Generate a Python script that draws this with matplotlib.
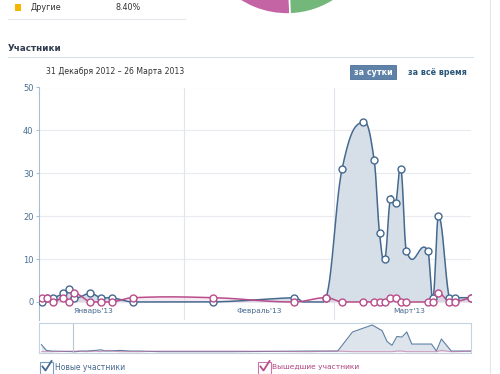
import numpy as np
import matplotlib.pyplot as plt
from matplotlib.patches import Rectangle, Wedge

plt.rcParams['font.family'] = ['DejaVu Sans']

# days counted from 1 Jan 2013, one point per day with activity
days = [4, 5, 6, 8, 9, 10, 13, 15, 17, 21, 36, 51, 57, 60, 64, 66, 67, 68,
        69, 70, 71, 72, 76, 77, 78, 80, 81, 84]
joined = [0, 1, 1, 2, 3, 1, 2, 1, 1, 0, 0, 1, 1, 31, 42, 33, 16, 10,
          24, 23, 31, 12, 12, 1, 20, 1, 1, 1]
left_members = [1, 1, 0, 1, 0, 2, 0, 0, 0, 1, 1, 0, 1, 0, 0, 0, 0, 0,
                1, 1, 0, 0, 0, 0, 2, 0, 0, 1]

# earlier history only seen in the small overview strip
early_days = [-3, -2, -1]
early_joined = [11, 2, 1]
early_left = [0, 0, 0]

month_starts = [31, 59]
month_mid = [14, 45, 73]
month_labels = ["Январь'13", "Февраль'13", "Март'13"]

BLUE = '#45698f'
PINK = '#b94c8a'


def spline(x, y, n=30, k=0.4):
    # bezier smoothing like the web chart: control points at 40% of each gap
    x = np.asarray(x, float)
    y = np.asarray(y, float)
    m = np.zeros_like(y)
    m[1:-1] = (y[2:] - y[:-2]) / (x[2:] - x[:-2])
    t = np.linspace(0, 1, n, endpoint=False)[:, None]
    xs, ys = [], []
    for i in range(len(x) - 1):
        h = x[i + 1] - x[i]
        p0 = np.array([x[i], y[i]])
        p3 = np.array([x[i + 1], y[i + 1]])
        p1 = p0 + (np.array([k * h, k * h * m[i]]) if i > 0 else 0)
        p2 = p3 - (np.array([k * h, k * h * m[i + 1]]) if i + 1 < len(x) - 1 else 0)
        pts = ((1 - t)**3 * p0 + 3 * (1 - t)**2 * t * p1
               + 3 * (1 - t) * t**2 * p2 + t**3 * p3)
        xs.append(pts[:, 0])
        ys.append(pts[:, 1])
    xs.append([x[-1]])
    ys.append([y[-1]])
    return np.concatenate(xs), np.maximum(np.concatenate(ys), 0)


fig = plt.figure(figsize=(5, 3.74), dpi=100)

# page decorations in pixel coordinates
bg = fig.add_axes([0, 0, 1, 1])
bg.set_xlim(0, 500)
bg.set_ylim(374, 0)
bg.axis('off')

bg.add_patch(Wedge((287, -73), 87, 88, 185, fc='#c464a4', ec='white', lw=1.2))
bg.add_patch(Wedge((287, -73), 87, 55, 88, fc='#74b77a', ec='white', lw=1.2))
bg.add_patch(Rectangle((15, 3.5), 6, 7, fc='#f5b400', ec='none'))
bg.text(31, 7, 'Другие', fontsize=5.8, color='#333333', va='center')
bg.text(116, 7, '8.40%', fontsize=5.8, color='#333333', va='center')
bg.plot([8, 185], [19, 19], color='#e4e8ed', lw=0.8)
bg.plot([490, 490], [0, 374], color='#e3e7ec', lw=0.8)

bg.text(8, 48.5, 'Участники', fontsize=6.3, fontweight='bold', color='#2f3d4f', va='center')
bg.plot([8, 473], [56.5, 56.5], color='#d8e0e8', lw=0.8)
bg.text(46, 71, '31 Декабря 2012 – 26 Марта 2013', fontsize=5.6, color='#333333', va='center')
bg.add_patch(Rectangle((350, 65), 46, 14, fc='#5e82a8', ec='#4d7198', lw=0.6))
bg.text(373, 72, 'за сутки', fontsize=5.8, fontweight='bold', color='white', ha='center', va='center')
bg.text(408, 72, 'за всё время', fontsize=5.8, fontweight='bold', color='#2b587a', va='center')

bg.add_patch(Rectangle((40, 361.5), 12.5, 12.5, fc='white', ec='#7b9bbd', lw=0.8))
bg.plot([42.5, 45.5, 51.5], [366.5, 370.5, 361], color=BLUE, lw=1.3)
bg.text(55, 367, 'Новые участники', fontsize=5.5, color='#45688e', va='center')
bg.add_patch(Rectangle((258, 361.5), 12.5, 12.5, fc='white', ec='#c77aa8', lw=0.8))
bg.plot([260.5, 263.5, 269.5], [366.5, 370.5, 361], color=PINK, lw=1.3)
bg.text(272, 367, 'Вышедшие участники', fontsize=5.4, color='#b0437e', va='center')

# main chart
ax = fig.add_axes([39 / 500, 1 - 320 / 374, 432 / 500, 232.5 / 374])
ax.set_facecolor('none')
x = np.array(days) + 0.5
for v in range(10, 51, 10):
    ax.axhline(v, color='#e8ecf1', lw=0.8, zorder=0)
for d in month_starts:
    ax.axvline(d, color='#dfe6ee', lw=0.8, zorder=0)

xb, yb = spline(x, joined)
xp, yp = spline(x, left_members)
ax.fill_between(xb, yb, 0, color='#d6dee7', lw=0, zorder=1)
ax.fill_between(xp, yp, 0, color='#e8c8da', alpha=0.35, lw=0, zorder=1)
ax.plot(xb, yb, color=BLUE, lw=1.1, zorder=2)
ax.plot(xp, yp, color=PINK, lw=1.1, zorder=3)
ax.plot(x, joined, 'o', ms=5, mfc='white', mec=BLUE, mew=1.0, zorder=4)
ax.plot(x, left_members, 'o', ms=5, mfc='white', mec=PINK, mew=1.0, zorder=5)

for d, lab in zip(month_mid, month_labels):
    ax.text(d, -2.1, lab, fontsize=5.4, color='#45688e', ha='center', va='center')

ax.set_xlim(3.93, 84.57)
ax.set_ylim(-4.2, 50)
ax.set_xticks([])
ax.set_yticks(range(0, 51, 10))
ax.tick_params(axis='y', length=2, pad=2, color='#a9bed3', labelcolor='#4a6f96', labelsize=6)
for s in ['top', 'right', 'bottom']:
    ax.spines[s].set_visible(False)
ax.spines['left'].set_color('#a9bed3')
ax.spines['left'].set_linewidth(0.8)

# overview strip
nav = fig.add_axes([39 / 500, 1 - 352.7 / 374, 432 / 500, 30 / 374])
nx = np.concatenate([np.array(early_days) + 0.5, x])
nb = early_joined + joined
npk = early_left + left_members
nav.fill_between(nx, nb, 0, color='#dde4ec', lw=0)
nav.plot(nx, nb, color='#5d7fa3', lw=0.8)
nav.plot(nx, npk, color='#c56a9c', lw=0.8, alpha=0.6)
nav.axvline(3.93, color='#b8c6d6', lw=0.8)
nav.set_xlim(-3, 84.5)
nav.set_ylim(-1.6, 45.6)
nav.set_xticks([])
nav.set_yticks([])
for s in nav.spines.values():
    s.set_color('#c5d2df')
    s.set_linewidth(0.8)

fig.savefig('out.png', dpi=100)
